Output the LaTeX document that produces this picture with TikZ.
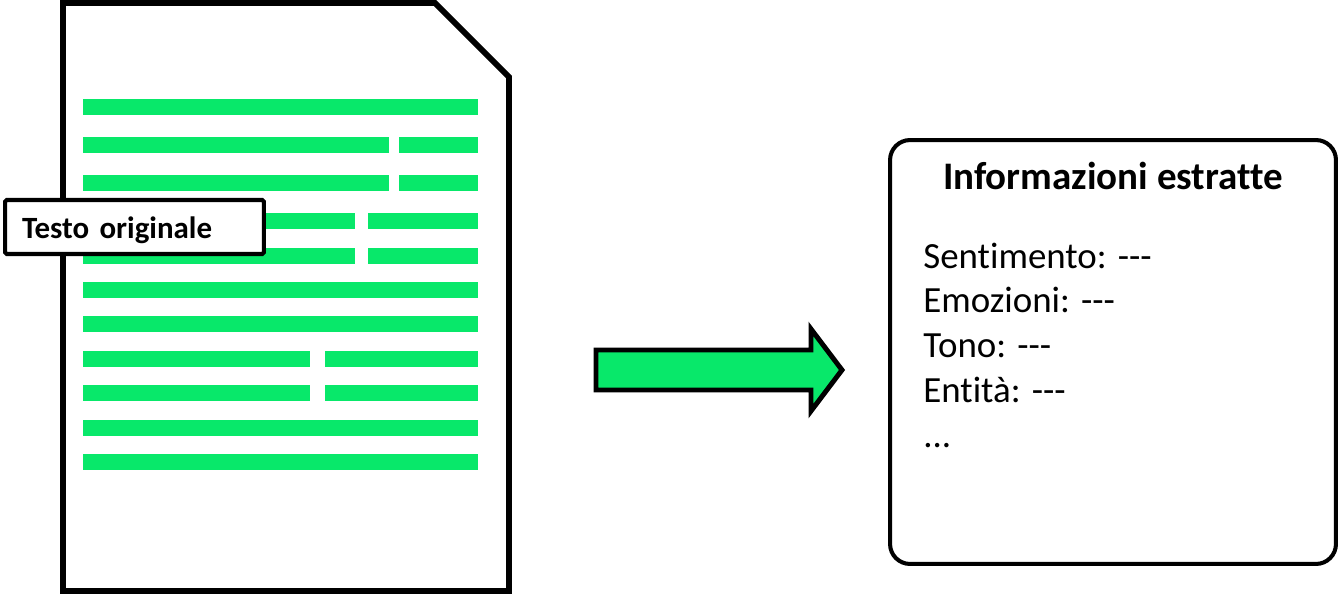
\documentclass[tikz,border=0pt]{standalone}
\usepackage{fontspec}
\setmainfont{Carlito}[Ligatures=CommonOff]
\usepackage{xcolor}
\usetikzlibrary{positioning}
\definecolor{textgreen}{RGB}{8,232,106}
\tikzstyle{docpage} = [draw=black, line width=3.4pt, fill=white, line join=miter]
\tikzstyle{textline} = [fill=textgreen]
\tikzstyle{docname} = [rectangle, rounded corners=1pt, draw=black, line width=2.3pt, fill=white, minimum width=5.18cm, minimum height=1.08cm, text width=4.5cm, text height=0.44cm, text depth=0pt, inner xsep=0.34cm, align=left, font=\fontsize{17.6}{20}\selectfont\bfseries]
\tikzstyle{infobox} = [rectangle, rounded corners=0.4cm, draw=black, line width=2.3pt, fill=white, minimum width=8.92cm, minimum height=8.48cm]
\tikzstyle{heading} = [inner sep=0pt, font=\fontsize{22.2}{26}\selectfont\bfseries]
\tikzstyle{field} = [inner sep=0pt, font=\fontsize{21}{25}\selectfont]
\tikzstyle{bigarrow} = [draw=black, line width=2.8pt, fill=textgreen, line join=miter]
\newcommand{\trattini}{-\kern0pt-\kern0pt-}

\begin{document}
\begin{tikzpicture}[x=0.02cm, y=-0.02cm]
        \useasboundingbox (0,0) rectangle (1341,595);

        % Original document
        \draw [docpage] (63,3) -- (435,3) -- (509,77) -- (509,591) -- (63,591) -- cycle;

        % Lines of text
        \fill [textline] (83,99) rectangle (478,115);
        \fill [textline] (83,137) rectangle (389,153);
        \fill [textline] (399,137) rectangle (478,153);
        \fill [textline] (83,175) rectangle (389,191);
        \fill [textline] (399,175) rectangle (478,191);
        \fill [textline] (83,213) rectangle (355,229);
        \fill [textline] (368,213) rectangle (478,229);
        \fill [textline] (83,248) rectangle (355,264);
        \fill [textline] (368,248) rectangle (478,264);
        \fill [textline] (83,282) rectangle (478,298);
        \fill [textline] (83,316) rectangle (478,332);
        \fill [textline] (83,351) rectangle (310,367);
        \fill [textline] (325,351) rectangle (478,367);
        \fill [textline] (83,385) rectangle (310,401);
        \fill [textline] (325,385) rectangle (478,401);
        \fill [textline] (83,420) rectangle (478,436);
        \fill [textline] (83,454) rectangle (478,470);

        % Label of the document
        \node (orig_label) [docname] at (134.5,227) {Testo originale};

        % Arrow
        \draw [bigarrow] (596,350) -- (811,350) -- (811,329) -- (842,370) -- (811,411) -- (811,390) -- (596,390) -- cycle;

        % Extracted information
        \node (info_box) [infobox] at (1113,352) {};
        \node (info_title) [heading, anchor=base] at ([yshift=-1.02cm]info_box.north) {Informazioni estratte};
        \node (sentimento) [field, anchor=base west] at ([xshift=0.7cm, yshift=-2.6cm]info_box.north west) {Sentimento: \trattini};
        \node (emozioni) [field, anchor=base west] at ([yshift=-0.9cm]sentimento.base west) {Emozioni: \trattini};
        \node (tono) [field, anchor=base west] at ([yshift=-0.9cm]emozioni.base west) {Tono: \trattini};
        \node (entita) [field, anchor=base west] at ([yshift=-0.9cm]tono.base west) {Entità: \trattini};
        \node (altro) [field, anchor=base west] at ([yshift=-0.9cm]entita.base west) {...};
    \end{tikzpicture}
\end{document}
